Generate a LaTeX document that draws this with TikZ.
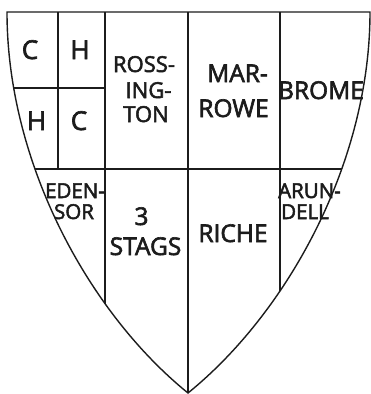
\documentclass[tikz,border=0pt]{standalone}
\usepackage{fontspec}
\setmainfont{Open Sans}
\newfontfamily\shieldfont{Open Sans}[FakeBold=2.5]
\usepackage{tikz}
\definecolor{inkblack}{RGB}{28, 28, 28}
\tikzset{
  shieldline/.style={line width=1.4pt, inkblack},
  bigletter/.style={font=\shieldfont\fontsize{26}{28}\selectfont, inkblack, anchor=base, inner sep=0pt},
  namelabel/.style={font=\shieldfont\fontsize{24.5}{28}\selectfont, inkblack, anchor=base, inner sep=0pt},
  smalllabel/.style={font=\shieldfont\fontsize{22}{24}\selectfont, inkblack, anchor=base, inner sep=0pt},
  narrowlabel/.style={font=\shieldfont\fontsize{20.5}{24}\selectfont, inkblack, anchor=base, inner sep=0pt}
}

\begin{document}
\begin{tikzpicture}[x=1pt, y=-1pt]
  \useasboundingbox (0,0) rectangle (371,394);

  % outline of the shield
  \draw[shieldline] (188,393) .. controls (88,312) and (7,162) .. (7,12) -- (370,12) .. controls (370,162) and (288,312) .. cycle;

  % divisions
  \begin{scope}
    \clip (188,393) .. controls (88,312) and (7,162) .. (7,12) -- (370,12) .. controls (370,162) and (288,312) .. cycle;
    \draw[shieldline] (58,0) -- (58,169);
    \draw[shieldline] (105,0) -- (105,394);
    \draw[shieldline] (188,0) -- (188,394);
    \draw[shieldline] (280,0) -- (280,394);
    \draw[shieldline] (0,88) -- (105,88);
    \draw[shieldline] (0,169) -- (371,169);
  \end{scope}

  % quarterings
  \node[bigletter] (c1) at (30,59) {C};
  \node[bigletter] (h1) at (80,59) {H};
  \node[bigletter] (h2) at (36.5,130) {H};
  \node[bigletter] (c2) at (79,130) {C};

  \node[smalllabel] (ross1) at (144,72) {ROSS-};
  \node[smalllabel] (ross2) at (148.5,98) {ING-};
  \node[smalllabel] (ross3) at (146,122) {TON};

  \node[namelabel] (mar1) at (237.5,82) {MAR-};
  \node[namelabel] (mar2) at (233.5,117) {ROWE};

  \node[namelabel] (brome) at (321,99) {BROME};

  \node[narrowlabel] (eden1) at (75,198) {EDEN-};
  \node[narrowlabel] (eden2) at (74,219) {SOR};

  \node[namelabel] (stags1) at (141.5,225) {3};
  \node[namelabel] (stags2) at (145.5,255) {STAGS};

  \node[namelabel] (riche) at (233,242) {RICHE};

  \node[narrowlabel] (arun1) at (309.5,198) {ARUN-};
  \node[narrowlabel] (arun2) at (305,219) {DELL};
\end{tikzpicture}
\end{document}
